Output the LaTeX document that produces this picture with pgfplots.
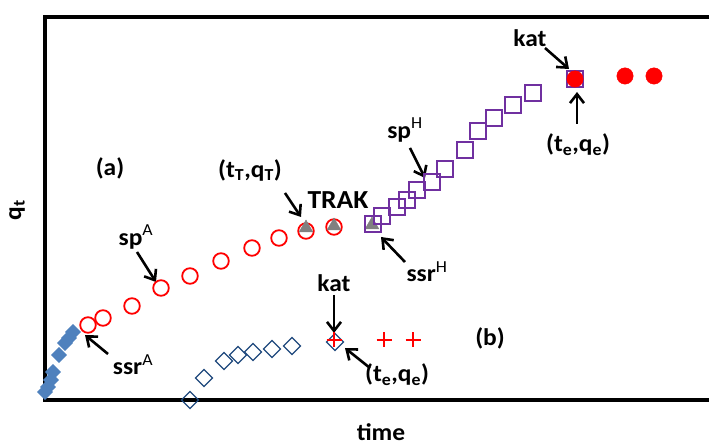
\documentclass[border=0pt]{standalone}
\usepackage{pgfplots}
\pgfplotsset{compat=1.18}
\usepackage{graphicx}
\usepackage{fontspec}
\setmainfont{Carlito}
\usetikzlibrary{arrows.meta}
\definecolor{mpurple}{RGB}{112,48,160}
\definecolor{mblue}{RGB}{79,129,189}
\definecolor{mnavy}{RGB}{31,73,125}
\definecolor{mgray}{RGB}{128,128,128}
\newcommand\T[1]{\scalebox{1.06}[1]{#1}}
\begin{document}
\begin{tikzpicture}
\begin{axis}[
  scale only axis, width=666pt, height=383pt,
  xmin=45, xmax=711, ymin=46, ymax=429,
  hide axis, clip=false,
]
\draw[line width=3.5pt, line join=miter] (axis cs:709,429) -- (axis cs:45,429) -- (axis cs:45,46) -- (axis cs:709,46);
% series (a)
\addplot[only marks, mark=square*, mark size=5.4pt, mark options={rotate=45, fill=mblue, draw=mblue}] coordinates {
(45,54)(48,59)(51,66)(53,74)(59,91)(65,103)(69,108)(73,114)};
\addplot[only marks, mark=o, mark size=7.8pt, mark options={draw=red, line width=1.8pt}] coordinates {
(88,121)(103,128)(132,140)(161,158)(190,170)(221,185)(252,198)(279,208)(306,215)(334,219)};
\addplot[only marks, mark=triangle*, mark size=8pt, mark options={fill=mgray, draw=mgray}] coordinates {
(306,218)(334,220)(372,221)};
\addplot[only marks, mark=square, mark size=8pt, mark options={draw=mpurple, line width=1.6pt}] coordinates {
(373,222)(382,230)(397,239)(407,246)(417,256)(432,264)(445,277)(465,296)(478,315)(494,328)(513,341)(533,353)(575,367)};
\addplot[only marks, mark=*, mark size=8.2pt, mark options={fill=red, draw=red}] coordinates {
(575,367)(625,370)(654,370)};
% series (b)
\addplot[only marks, mark=square, mark size=6pt, mark options={rotate=45, draw=mnavy, line width=1.1pt}] coordinates {
(190,46)(204,68)(224,85)(238,91)(253,94)(272,97)(292,100)(335,104)};
\addplot[only marks, mark=+, mark size=7.5pt, mark options={draw=red, line width=1.1pt}] coordinates {
(334,106)(384,106)(413,106)};
% labels
\begin{scope}[font=\fontsize{24}{28}\selectfont\bfseries, inner sep=0.5pt]
\node[rotate=90] at (axis cs:17,236) {\T{q\textsubscript{t}}};
\node at (axis cs:381,14) {\T{time}};
\node at (axis cs:110,278) {\T{(a)}};
\node at (axis cs:250,276) {\T{(t\textsubscript{T},q\textsubscript{T})}};
\node[font=\fontsize{26}{30}\selectfont\bfseries] at (axis cs:338,246) {\T{TRAK}};
\node at (axis cs:136,209) {\T{sp\textsuperscript{\mdseries A}}};
\node at (axis cs:133,81) {\T{ssr\textsuperscript{\mdseries A}}};
\node at (axis cs:334,163) {\T{kat}};
\node at (axis cs:397,71) {\T{(t\textsubscript{e},q\textsubscript{e})}};
\node at (axis cs:490,108) {\T{(b)}};
\node at (axis cs:427,174) {\T{ssr\textsuperscript{\mdseries H}}};
\node at (axis cs:405,316) {\T{sp\textsuperscript{\mdseries H}}};
\node at (axis cs:530,408) {\T{kat}};
\node at (axis cs:578,301) {\T{(t\textsubscript{e},q\textsubscript{e})}};
\end{scope}
\begin{scope}[line width=2.6pt, -{Straight Barb[length=9pt,width=14pt]}]
\draw (axis cs:285,253) -- (axis cs:301,229);
\draw (axis cs:137,194) -- (axis cs:156,164);
\draw (axis cs:108,92) -- (axis cs:85,111);
\draw (axis cs:334,151) -- (axis cs:334,113);
\draw (axis cs:370,78) -- (axis cs:345,98);
\draw (axis cs:405,184) -- (axis cs:381,209);
\draw (axis cs:410,298) -- (axis cs:425,268);
\draw (axis cs:545,398) -- (axis cs:569,377);
\draw (axis cs:577,322) -- (axis cs:577,354);
\end{scope}
\end{axis}
\pgfresetboundingbox
\useasboundingbox (-45pt,-46pt) rectangle (666pt,400pt);
\end{tikzpicture}
\end{document}
